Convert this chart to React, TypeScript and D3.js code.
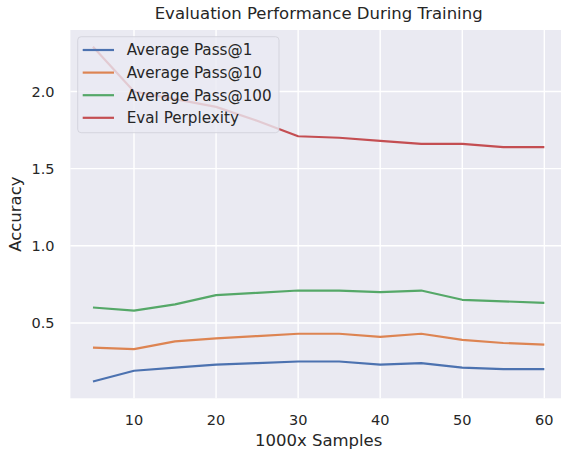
import { useEffect, useRef } from 'react'
import * as d3 from 'd3'

const samples = [5, 10, 15, 20, 25, 30, 35, 40, 45, 50, 55, 60]
const pass1 = [0.12, 0.19, 0.21, 0.23, 0.24, 0.25, 0.25, 0.23, 0.24, 0.21, 0.2, 0.2]
const pass10 = [0.34, 0.33, 0.38, 0.4, 0.415, 0.43, 0.43, 0.41, 0.43, 0.39, 0.37, 0.36]
const pass100 = [0.6, 0.58, 0.62, 0.68, 0.695, 0.71, 0.71, 0.7, 0.71, 0.65, 0.64, 0.63]
const perplexity = [2.29, 2.0, 1.95, 1.9, 1.81, 1.71, 1.7, 1.68, 1.66, 1.66, 1.64, 1.64]
const xTicks = [10, 20, 30, 40, 50, 60]
const yTicks = [0.5, 1.0, 1.5, 2.0]

const seriesNames = ['Average Pass@1', 'Average Pass@10', 'Average Pass@100', 'Eval Perplexity']
const seriesValues = [pass1, pass10, pass100, perplexity]
const colors = ['#4c72b0', '#dd8452', '#55a868', '#c44e52']

export default function App() {
  const svgRef = useRef<SVGSVGElement>(null)

  useEffect(() => {
    if (!svgRef.current) return
    const svg = d3.select(svgRef.current)
    svg.selectAll('*').remove()

    const font = 'DejaVu Sans, sans-serif'
    const textColor = '#262626'
    const left = 70.4
    const right = 566.9
    const top = 30
    const bottom = 398.3

    // matplotlib-style 5% margins
    const xMin = d3.min(samples)!
    const xMax = d3.max(samples)!
    const xPad = (xMax - xMin) * 0.05
    const allY = seriesValues.flat()
    const yMin = d3.min(allY)!
    const yMax = d3.max(allY)!
    const yPad = (yMax - yMin) * 0.05

    const x = d3.scaleLinear().domain([xMin - xPad, xMax + xPad]).range([left, right])
    const y = d3.scaleLinear().domain([yMin - yPad, yMax + yPad]).range([bottom, top])

    // background
    svg.append('rect')
      .attr('x', left)
      .attr('y', top)
      .attr('width', right - left)
      .attr('height', bottom - top)
      .attr('fill', '#eaeaf2')

    // grid
    svg.selectAll('.gx')
      .data(xTicks)
      .enter()
      .append('line')
      .attr('x1', d => x(d))
      .attr('x2', d => x(d))
      .attr('y1', top)
      .attr('y2', bottom)
      .attr('stroke', '#fff')
      .attr('stroke-width', 1.4)

    svg.selectAll('.gy')
      .data(yTicks)
      .enter()
      .append('line')
      .attr('x1', left)
      .attr('x2', right)
      .attr('y1', d => y(d))
      .attr('y2', d => y(d))
      .attr('stroke', '#fff')
      .attr('stroke-width', 1.4)

    // lines
    const line = d3.line<number>()
      .x((_, i) => x(samples[i]))
      .y(d => y(d))

    seriesValues.forEach((vals, i) => {
      svg.append('path')
        .datum(vals)
        .attr('fill', 'none')
        .attr('stroke', colors[i])
        .attr('stroke-width', 2.2)
        .attr('stroke-linejoin', 'round')
        .attr('stroke-linecap', 'butt')
        .attr('d', line)
    })

    // tick labels
    svg.selectAll('.xt')
      .data(xTicks)
      .enter()
      .append('text')
      .attr('x', d => x(d))
      .attr('y', 424.5)
      .attr('text-anchor', 'middle')
      .attr('font-family', font)
      .attr('font-size', 14.5)
      .attr('fill', textColor)
      .text(d => d3.format('d')(d))

    svg.selectAll('.yt')
      .data(yTicks)
      .enter()
      .append('text')
      .attr('x', 54.5)
      .attr('y', d => y(d))
      .attr('dy', '0.36em')
      .attr('text-anchor', 'end')
      .attr('font-family', font)
      .attr('font-size', 14.5)
      .attr('fill', textColor)
      .text(d => d3.format('.1f')(d))

    // title and axis labels
    const cx = (left + right) / 2
    svg.append('text')
      .attr('x', cx)
      .attr('y', 19)
      .attr('text-anchor', 'middle')
      .attr('font-family', font)
      .attr('font-size', 16.5)
      .attr('fill', textColor)
      .text('Evaluation Performance During Training')

    svg.append('text')
      .attr('x', cx)
      .attr('y', 446)
      .attr('text-anchor', 'middle')
      .attr('font-family', font)
      .attr('font-size', 16.5)
      .attr('fill', textColor)
      .text('1000x Samples')

    svg.append('text')
      .attr('transform', `translate(21,${(top + bottom) / 2}) rotate(-90)`)
      .attr('text-anchor', 'middle')
      .attr('font-family', font)
      .attr('font-size', 16.5)
      .attr('fill', textColor)
      .text('Accuracy')

    // legend
    const lg = svg.append('g')
    lg.append('rect')
      .attr('x', 77.7)
      .attr('y', 36.7)
      .attr('width', 201.3)
      .attr('height', 96)
      .attr('rx', 3.5)
      .attr('fill', '#eaeaf2')
      .attr('fill-opacity', 0.8)
      .attr('stroke', '#d0d0d8')
      .attr('stroke-opacity', 0.8)
      .attr('stroke-width', 1)

    seriesNames.forEach((name, i) => {
      const ry = 50 + i * 22.6
      lg.append('line')
        .attr('x1', 82.7)
        .attr('x2', 114)
        .attr('y1', ry)
        .attr('y2', ry)
        .attr('stroke', colors[i])
        .attr('stroke-width', 2.2)
      lg.append('text')
        .attr('x', 126.7)
        .attr('y', ry)
        .attr('dy', '0.36em')
        .attr('font-family', font)
        .attr('font-size', 15.2)
        .attr('fill', textColor)
        .text(name)
    })
  }, [])

  return (
    <svg
      ref={svgRef}
      width={561}
      height={453}
      style={{ position: 'absolute', left: 0, top: 0, background: '#fff' }}
    />
  )
}
